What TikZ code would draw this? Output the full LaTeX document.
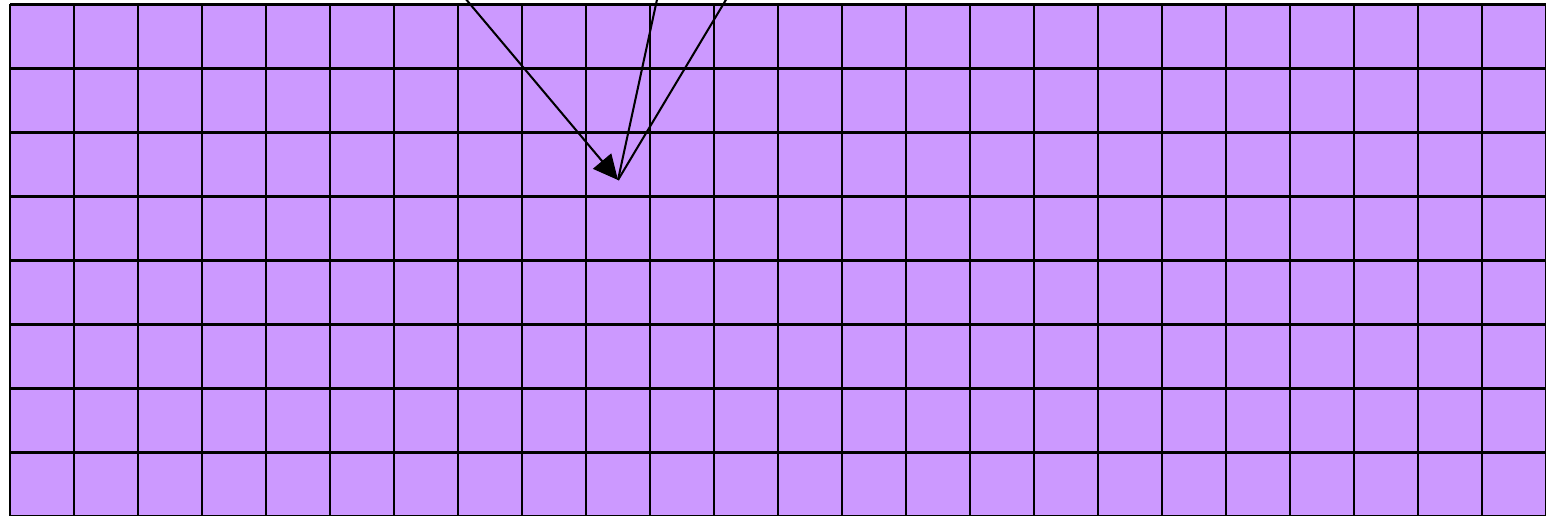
\documentclass[tikz,border=0pt]{standalone}
\usepackage{tikz}
\usetikzlibrary{arrows.meta}
\definecolor{Lilac}{RGB}{204,153,255}
\tikzset{
  gridline/.style={draw=black,line width=0.9pt},
  plainray/.style={draw=black,line width=0.9pt},
  arrowray/.style={-{Triangle[length=11pt,width=10.5pt]},draw=black,line width=0.9pt}
}

\begin{document}
\begin{tikzpicture}[x=1cm,y=1cm]
\useasboundingbox (0,0) rectangle (24.15625,-8.0625);
\clip (0,0) rectangle (24.15625,-8.0625);
\coordinate (hit) at (9.656,-2.8125);
\coordinate (srcA) at (6.45,1.0);
\coordinate (srcB) at (10.48,1.0);
\coordinate (srcC) at (11.94,1.0);

\begin{scope}[shift={(0.15625,-0.0703)}]
\fill[Lilac] (0,0) rectangle (25,-9);
\foreach \i in {0,...,25}{\draw[gridline] (\i,0)--(\i,-9);}
\foreach \j in {0,...,9}{\draw[gridline] (0,-\j)--(25,-\j);}
\end{scope}

\draw[arrowray](srcA)--(hit);\draw[plainray](hit)--(srcB);\draw[plainray](hit)--(srcC);
\end{tikzpicture}
\end{document}
